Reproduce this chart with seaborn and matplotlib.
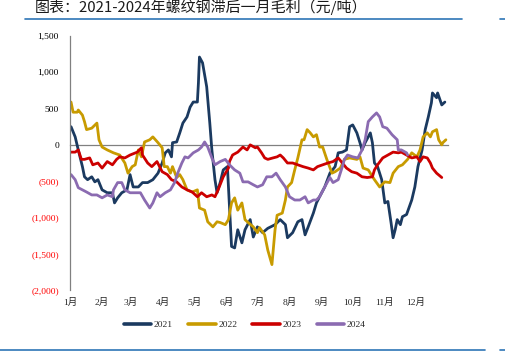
import numpy as np
import pandas as pd
import matplotlib
matplotlib.use('Agg')
import matplotlib.pyplot as plt
import matplotlib.lines as mlines
import seaborn as sns

# ==================== 数据（日序号 / 毛利 元/吨） ====================
day_2021 = [1, 5, 8, 12, 14, 17, 21, 24, 27, 31, 36, 41, 43, 46, 50, 55, 58, 61, 66, 70,
            75, 80, 85, 89, 92, 95, 98, 99, 103, 106, 109, 113, 116, 119, 123, 124, 125, 128,
            132, 135, 137, 140, 142, 145, 148, 152, 154, 156, 159, 162, 166, 169, 174, 177,
            181, 186, 191, 198, 203, 208, 210, 215, 220, 224, 227, 230, 235, 238, 241, 246,
            251, 256, 259, 263, 267, 270, 273, 277, 280, 282, 285, 288, 290, 292, 294, 297,
            301, 304, 307, 310, 312, 314, 316, 319, 321, 325, 330, 333, 336, 340, 343, 346,
            349, 350, 354, 355, 359, 362]
val_2021 = [250, 110, -70, -300, -440, -480, -440, -510, -480, -620, -660, -660, -800, -730,
            -660, -620, -410, -580, -580, -520, -520, -480, -390, -250, -110, -70, -165, 30,
            40, 165, 300, 385, 520, 590, 590, 850, 1210, 1130, 800, 300, -70, -480, -660,
            -520, -345, -300, -850, -1400, -1420, -1170, -1350, -1170, -1030, -1270, -1130,
            -1210, -1150, -1100, -1030, -1100, -1280, -1210, -1060, -1030, -1240, -1130, -940,
            -800, -715, -580, -390, -300, -110, -100, -70, 250, 275, 165, 30, -70, 30, 110,
            165, 30, -250, -300, -480, -800, -780, -1070, -1280, -1170, -1030, -1100, -990,
            -960, -760, -580, -300, -70, 210, 385, 580, 715, 650, 715, 550, 590]

day_2022 = [1, 3, 7, 8, 12, 14, 16, 21, 26, 28, 31, 36, 42, 48, 53, 56, 60, 63, 66, 69, 72,
            77, 80, 85, 89, 91, 94, 97, 99, 103, 106, 109, 113, 118, 123, 125, 130, 133, 138,
            142, 145, 150, 153, 156, 159, 162, 166, 169, 172, 177, 181, 183, 188, 191, 195,
            198, 200, 205, 208, 210, 214, 217, 220, 224, 226, 229, 232, 235, 238, 241, 244,
            248, 253, 256, 261, 265, 270, 277, 280, 283, 288, 294, 299, 304, 309, 312, 317,
            321, 326, 330, 335, 338, 341, 345, 348, 350, 354, 356, 359, 360, 363]
val_2022 = [590, 450, 450, 480, 410, 320, 210, 230, 300, 70, -30, -70, -110, -140, -250,
            -390, -300, -275, -70, -165, 40, 70, 110, 30, -40, -300, -300, -390, -300, -450,
            -410, -480, -620, -650, -620, -870, -900, -1060, -1130, -1060, -1070, -1100,
            -1030, -800, -730, -900, -800, -1030, -1070, -1130, -1210, -1140, -1240, -1450,
            -1650, -1170, -970, -940, -760, -580, -520, -345, -180, 70, 70, 210, 165, 110,
            140, -30, -30, -200, -390, -370, -320, -200, -180, -200, -165, -320, -345, -480,
            -580, -510, -520, -390, -300, -275, -200, -110, -165, -70, 110, 165, 110, 180,
            210, 70, 0, 30, 70]

day_2023 = [1, 5, 8, 11, 14, 19, 22, 27, 31, 36, 41, 45, 48, 53, 58, 65, 69, 70, 75, 79,
            84, 89, 94, 98, 103, 108, 113, 118, 123, 127, 132, 137, 140, 143, 148, 153, 154,
            157, 162, 167, 171, 174, 179, 181, 185, 188, 191, 196, 200, 203, 206, 210, 215,
            220, 225, 230, 235, 239, 244, 249, 254, 259, 263, 267, 272, 277, 282, 287, 292,
            294, 297, 302, 307, 312, 317, 320, 325, 330, 335, 338, 341, 345, 348, 350, 354,
            359]
val_2023 = [-100, -100, -70, -200, -200, -180, -275, -250, -320, -230, -275, -200, -165,
            -180, -140, -100, -40, -140, -250, -300, -230, -370, -410, -480, -510, -580, -620,
            -650, -715, -660, -715, -690, -715, -620, -440, -320, -230, -140, -100, -30, -70,
            0, -40, -30, -110, -180, -200, -180, -165, -140, -180, -250, -250, -275, -300,
            -320, -345, -300, -275, -250, -230, -180, -250, -320, -370, -390, -440, -450,
            -440, -345, -275, -180, -140, -100, -110, -100, -140, -180, -165, -230, -165,
            -180, -250, -320, -390, -450]

day_2024 = [1, 5, 8, 12, 16, 21, 26, 31, 36, 41, 42, 46, 50, 53, 58, 63, 68, 72, 77, 80,
            84, 87, 92, 97, 101, 104, 108, 111, 114, 119, 124, 127, 130, 133, 137, 140, 145,
            150, 154, 159, 164, 167, 172, 177, 181, 186, 190, 195, 199, 203, 208, 212, 217,
            222, 227, 230, 235, 238, 241, 246, 251, 254, 259, 263, 265, 268, 273, 278, 282,
            285, 288, 292, 296, 299, 302, 306, 311, 316, 317, 320, 325, 326]
val_2024 = [-410, -480, -590, -620, -650, -690, -690, -730, -690, -715, -620, -520, -520,
            -620, -660, -660, -660, -760, -870, -800, -660, -715, -660, -620, -520, -390,
            -250, -165, -180, -110, -70, -30, 40, -30, -180, -275, -230, -200, -275, -345,
            -390, -510, -510, -550, -580, -550, -440, -440, -390, -480, -580, -715, -760,
            -760, -715, -800, -760, -760, -715, -580, -450, -520, -480, -300, -200, -140,
            -165, -180, -70, 70, 320, 385, 440, 385, 250, 230, 140, 70, -70, -70, -110, -140]

years = ['2021', '2022', '2023', '2024']
colors = ['#1B3A60', '#C89B00', '#CC0000', '#8B6BB1']
month_days = [0, 31, 59, 90, 120, 151, 181, 212, 243, 273, 304, 334]
month_labels = ['1月', '2月', '3月', '4月', '5月', '6月', '7月', '8月', '9月', '10月', '11月', '12月']
y_ticks = [1500, 1000, 500, 0, -500, -1000, -1500, -2000]

frames = []
for yr, d, v in zip(years, [day_2021, day_2022, day_2023, day_2024],
                    [val_2021, val_2022, val_2023, val_2024]):
    frames.append(pd.DataFrame({'day': d, 'value': v, 'year': yr}))
df = pd.concat(frames, ignore_index=True)

# ==================== 绘图 ====================
sns.set_style('white')
serif = ['Liberation Serif', 'Noto Sans CJK SC']
plt.rcParams['font.family'] = serif
plt.rcParams['axes.unicode_minus'] = False

fig = plt.figure(figsize=(5.05, 3.54), dpi=100)
ax = fig.add_axes([0.1386, 0.1808, 0.7485, 0.7175])

sns.lineplot(data=df, x='day', y='value', hue='year', palette=colors,
             linewidth=2.0, ax=ax, legend=False, estimator=None, sort=False)

ax.set_xlim(0, 365)
ax.set_ylim(-2000, 1500)
ax.set_xlabel('')
ax.set_ylabel('')

# 零轴
for s in ['top', 'right']:
    ax.spines[s].set_visible(False)
ax.spines['bottom'].set_position(('data', 0))
ax.spines['bottom'].set_color('#808080')
ax.spines['bottom'].set_linewidth(0.9)
ax.spines['bottom'].set_zorder(0)
ax.spines['left'].set_color('#808080')
ax.spines['left'].set_linewidth(0.9)

ax.set_xticks(month_days)
ax.tick_params(axis='x', direction='out', length=3, color='#808080', labelbottom=False)

ax.set_yticks(y_ticks)
ylabs = [f'{t:,}' if t >= 0 else f'({-t:,})' for t in y_ticks]
ax.set_yticklabels(ylabs)
ax.tick_params(axis='y', direction='out', length=3, color='#808080', labelsize=6.8, pad=5)
for lab, t in zip(ax.get_yticklabels(), y_ticks):
    lab.set_color('#000000' if t >= 0 else '#FF0000')

# 月份标签放在底部
sec = ax.secondary_xaxis('bottom')
sec.set_xticks(month_days)
sec.set_xticklabels(month_labels)
sec.tick_params(length=0, labelsize=6.8, pad=6)
sec.spines['bottom'].set_visible(False)

# 图例
handles = [mlines.Line2D([], [], color=c, linewidth=2.6) for c in colors]
fig.legend(handles, years, loc='center', bbox_to_anchor=(0.485, 0.082), ncol=4,
           frameon=False, fontsize=6.8, handlelength=2.9, handletextpad=0.3,
           columnspacing=1.6)

# 标题及装饰线
fig.text(0.069, 0.981, '图表：2021-2024年螺纹钢滞后一月毛利（元/吨）',
         family=['Noto Sans CJK SC', 'DejaVu Sans'], fontsize=10.8,
         ha='left', va='center', color='#1a1a1a')
fig.add_artist(mlines.Line2D([25 / 505, 462 / 505], [1 - 19 / 354] * 2,
                             color='#2E75B6', linewidth=1.2))
fig.add_artist(mlines.Line2D([500 / 505, 1.0], [1 - 19 / 354] * 2,
                             color='#2E75B6', linewidth=1.2))
fig.add_artist(mlines.Line2D([0, 485 / 505], [1 - 350 / 354] * 2,
                             color='#2E75B6', linewidth=1.2))
fig.add_artist(mlines.Line2D([500 / 505, 1.0], [1 - 350 / 354] * 2,
                             color='#2E75B6', linewidth=1.2))

plt.savefig('out.png', dpi=100)
